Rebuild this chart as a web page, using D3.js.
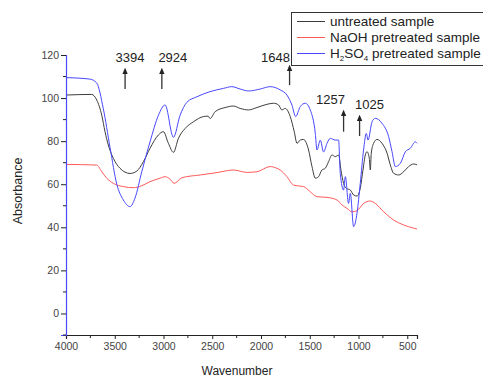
<!DOCTYPE html>
<html>
<head>
<meta charset="utf-8">
<script src="https://cdn.jsdelivr.net/npm/d3@7"></script>
<style>
  body { margin: 0; background: #fff; }
  svg { font-family: Arial, "Liberation Sans", sans-serif; }
</style>
</head>
<body>
<div id="chart"></div>
<script>
// wavenumber (cm-1) / absorbance
const untreatedWn = [4000,3736,3685,3633,3600,3566,3514,3446,3343,3274,3206,3138,3052,3001,2950,2898,2847,2778,2693,2590,2542,2522,2470,2368,2282,2214,2128,2042,1939,1872,1820,1786,1752,1700,1659,1631,1598,1564,1512,1477,1443,1410,1375,1341,1307,1272,1238,1204,1180,1153,1125,1084,1050,1015,982,954,930,913,889,879,869,845,810,759,707,674,640,588,537,486,434,400]
const untreatedA = [101.4,101.7,99.1,92,84.4,78.2,72,67.4,65,66.1,70.5,76.7,82.9,84.4,79,74.8,81.3,85.9,89,91.4,91.6,90.5,93.7,95.6,96.3,95.2,94.5,95.6,97.1,97.6,96.8,94.5,95.2,91.4,84.4,79,80.5,80.8,75.9,68.2,62.8,63.5,66.6,67.4,70.5,73.6,72.8,73.6,66.6,60.4,58.1,57.3,55,54.5,58.1,66.6,73.6,75.1,72,66.6,74.4,79,80.8,79,74.4,69,65.1,64.3,65.8,68.2,69.4,69]

const naohWn = [4000,3685,3633,3582,3514,3412,3309,3223,3138,3035,2984,2932,2891,2812,2624,2453,2282,2145,2042,1906,1837,1803,1734,1666,1615,1564,1495,1426,1323,1221,1170,1118,1067,1015,948,879,828,742,640,537,434,400]
const naohA = [69.2,68.9,65.8,62.8,60.4,58.9,58.4,59.3,61.2,62.8,63.5,62.3,60.4,63,64.3,65.4,66.6,65.5,65.8,68.2,67.4,66.6,63.5,59.6,59.2,58.9,56.5,54.2,53.9,52.7,50.4,48.8,47.2,47.7,51.1,52.2,51.1,47.2,43.4,41.1,39.6,39.2]

const h2so4Wn = [4000,3754,3685,3617,3548,3479,3412,3343,3292,3223,3138,3052,2984,2898,2830,2761,2658,2522,2385,2299,2214,2128,2008,1906,1803,1734,1683,1644,1598,1546,1495,1443,1426,1392,1358,1323,1289,1238,1204,1187,1153,1135,1102,1084,1050,1015,982,948,920,902,861,828,759,691,656,622,571,519,468,417,400]
const h2so4A = [109.5,108.8,107,95,77,60,52.7,49.6,53.6,65.8,79.7,92,96.8,81.8,92,98,100.6,103,104.5,105.3,104.2,103.3,104.2,105.3,103.8,101.4,96.8,91.4,96,97.6,94.5,83.6,75.9,80.5,75,79,81.3,80.5,80.5,65,57.3,63.5,51.1,55.8,40.3,46.6,60.4,75.9,83.6,80.5,89,90.6,88.3,82.1,75.1,68.2,69.7,75.1,76.7,79.7,79]

const seriesNames = ["untreated sample", "NaOH pretreated sample", "H2SO4 pretreated sample"]
const seriesColors = ["#3c3c3c", "#ff5a5a", "#4848ff"]

// peak annotations: label, arrow wavenumber, arrow base / tip absorbance
const peakLabels = ["3394", "2924", "1648", "1257", "1025"]
const arrowWn = [3394, 3017, 1707, 1153, 989]
const arrowBase = [104.2, 104.2, 106, 84.4, 82.4]
const arrowTip = [114, 114, 115.4, 94.5, 92.2]
const labelDx = [5, 11, -14, -13, 10]

const xTicks = [4000, 3500, 3000, 2500, 2000, 1500, 1000, 500]
const yTicks = [0, 20, 40, 60, 80, 100, 120]

const width = 483, height = 376
const svg = d3.select("#chart").append("svg")
  .attr("width", width)
  .attr("height", height)

const x = d3.scaleLinear([4000, 400], [66, 417])
const y = d3.scaleLinear([-10, 120], [335, 55])

svg.append("defs").append("marker")
  .attr("id", "arr")
  .attr("viewBox", "0 0 6 6")
  .attr("refX", 3).attr("refY", 3)
  .attr("markerWidth", 5).attr("markerHeight", 6)
  .attr("orient", "auto")
  .append("path")
  .attr("d", "M0,0.5 L6,3 L0,5.5 Z")
  .attr("fill", "#222")

// data lines
const series = [
  d3.zip(untreatedWn, untreatedA),
  d3.zip(naohWn, naohA),
  d3.zip(h2so4Wn, h2so4A)
]
const line = d3.line()
  .x(d => x(d[0]))
  .y(d => y(d[1]))
  .curve(d3.curveMonotoneX)

svg.selectAll(".spec")
  .data(series)
  .join("path")
  .attr("class", "spec")
  .attr("fill", "none")
  .attr("stroke", (d, i) => seriesColors[i])
  .attr("stroke-width", 1)
  .attr("d", line)

// axes
const xAxis = svg.append("g").attr("transform", "translate(0,335)")
  .call(d3.axisBottom(x).tickValues(xTicks).tickSize(4).tickPadding(4).tickFormat(d3.format("d")))
xAxis.append("g").selectAll("line")
  .data(d3.range(3750, 400, -500))
  .join("line")
  .attr("x1", d => x(d)).attr("x2", d => x(d))
  .attr("y1", 0).attr("y2", 3)
  .attr("stroke", "#222")

const yAxis = svg.append("g").attr("transform", "translate(66,0)")
  .call(d3.axisLeft(y).tickValues(yTicks).tickSize(5).tickPadding(2))
yAxis.append("g").selectAll("line")
  .data(d3.range(-10, 120, 20))
  .join("line")
  .attr("x1", 0).attr("x2", -3)
  .attr("y1", d => y(d)).attr("y2", d => y(d))
  .attr("stroke", "#222")

svg.selectAll(".tick text").attr("font-size", 10.5).attr("fill", "#444")
  .attr("font-family", "Arial, 'Liberation Sans', sans-serif")
svg.selectAll(".tick line").attr("stroke", "#222")
xAxis.select(".domain").attr("stroke", "#222").attr("stroke-width", 1.2)
yAxis.select(".domain").attr("stroke", "#4848ff").attr("stroke-width", 1.2)

svg.append("text")
  .attr("x", 237).attr("y", 374.5)
  .attr("text-anchor", "middle")
  .attr("font-size", 12)
  .attr("fill", "#222")
  .text("Wavenumber")

svg.append("text")
  .attr("transform", "translate(22,191) rotate(-90)")
  .attr("text-anchor", "middle")
  .attr("font-size", 12.5)
  .attr("fill", "#222")
  .text("Absorbance")

// peak arrows
const ann = svg.selectAll(".peak")
  .data(peakLabels)
  .join("g")
  .attr("class", "peak")
ann.append("line")
  .attr("x1", (d, i) => x(arrowWn[i])).attr("x2", (d, i) => x(arrowWn[i]))
  .attr("y1", (d, i) => y(arrowBase[i])).attr("y2", (d, i) => y(arrowTip[i]) + 3)
  .attr("stroke", "#333").attr("stroke-width", 1.3)
  .attr("marker-end", "url(#arr)")
ann.append("text")
  .attr("x", (d, i) => x(arrowWn[i]) + labelDx[i])
  .attr("y", (d, i) => y(arrowTip[i]) - (i == 2 ? 3 : 6))
  .attr("text-anchor", "middle")
  .attr("font-size", 13)
  .attr("fill", "#222")
  .text(d => d)

// legend
const lg = svg.append("g").attr("class", "legend")
lg.append("rect")
  .attr("x", 291.5).attr("y", 12.5)
  .attr("width", 200).attr("height", 53)
  .attr("fill", "#fff")
  .attr("stroke", "#333")
const items = lg.selectAll(".item")
  .data(seriesNames)
  .join("g")
  .attr("class", "item")
  .attr("transform", (d, i) => `translate(297,${21.5 + i * 16})`)
items.append("line")
  .attr("x1", 0).attr("x2", 28)
  .attr("stroke", (d, i) => seriesColors[i])
  .attr("stroke-width", 1)
const lt = items.append("text")
  .attr("x", 33).attr("y", 4.5)
  .attr("font-size", 13.5)
  .attr("fill", "#222")
lt.filter((d, i) => i < 2).text(d => d)
const h = lt.filter((d, i) => i == 2)
h.append("tspan").text("H")
h.append("tspan").text("2").attr("font-size", 8).attr("dy", 3)
h.append("tspan").text("SO").attr("dy", -3)
h.append("tspan").text("4").attr("font-size", 8).attr("dy", 3)
h.append("tspan").text(" pretreated sample").attr("dy", -3)
</script>
</body>
</html>
